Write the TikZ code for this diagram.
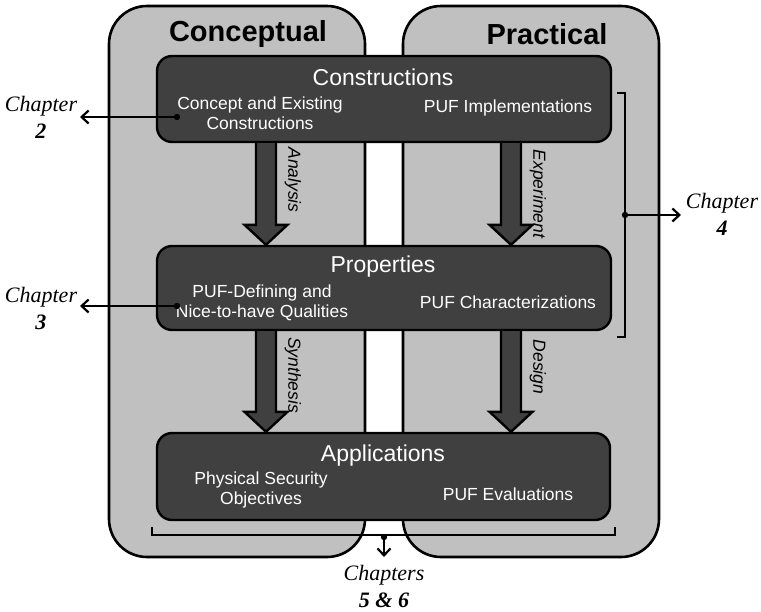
\documentclass[tikz,border=0pt]{standalone}
\usepackage{fontspec}
\setmainfont{Liberation Serif}
\setsansfont{Liberation Sans}
\usetikzlibrary{calc,arrows.meta}
\definecolor{panelgray}{HTML}{C0C0C0}
\definecolor{darkbox}{HTML}{404040}
\tikzset{
  panel/.style={draw=black,line width=2.6pt,fill=panelgray,rounded corners=38pt},
  darkrect/.style={draw=black,line width=2.4pt,fill=darkbox,rounded corners=15pt,rectangle,inner sep=0pt},
  titletext/.style={font=\sffamily\bfseries\fontsize{29}{32}\selectfont,text=black},
  headtext/.style={font=\sffamily\fontsize{23}{26}\selectfont,text=white},
  subtext/.style={font=\sffamily\fontsize{17.5}{20}\selectfont,text=white,align=center},
  flowlabel/.style={font=\sffamily\itshape\fontsize{17.5}{20}\selectfont,rotate=-90},
  chaptext/.style={font=\fontsize{22}{27}\selectfont,align=center},
  blockarr/.style={draw=black,line width=2.4pt,fill=darkbox,line join=miter},
  chaparrow/.style={line width=2.2pt,-{Straight Barb[length=7pt,width=13pt,line width=2.2pt]}},
  bracketline/.style={line width=2.2pt},
}
\newcommand\blockarrow[3]{%
  \draw[blockarr] ($(#2.south -| #1)+(-10,0)$) -- ($(#3.north -| #1)+(-10,-20)$)
    -- ($(#3.north -| #1)+(-21.5,-20)$) -- (#3.north -| #1)
    -- ($(#3.north -| #1)+(21.5,-20)$) -- ($(#3.north -| #1)+(10,-20)$)
    -- ($(#2.south -| #1)+(10,0)$);}
\begin{document}
\begin{tikzpicture}[x=1pt,y=-1pt]
\useasboundingbox (0,0) rectangle (761,611);
% panels
\draw[panel] (109,6) rectangle (365,557);
\draw[panel] (403,6) rectangle (659,557);
\node[titletext] (tconc) at (248,34) {Conceptual};
\node[titletext] (tprac) at (547,34) {Practical};
% dark boxes
\node[darkrect,minimum width=454pt,minimum height=86pt] (cons) at (384,99) {};
\node[darkrect,minimum width=454pt,minimum height=84pt] (prop) at (384,288) {};
\node[darkrect,minimum width=453pt,minimum height=87pt] (appl) at (383.5,476.5) {};
% texts in boxes
\node[headtext] (hcons) at (383,77) {Constructions};
\node[subtext] (scons1) at (260,113) {Concept and Existing\\Constructions};
\node[subtext] (scons2) at (508,108) {PUF Implementations};
\node[headtext] (hprop) at (383,267) {Properties};
\node[subtext] (sprop1) at (262,303) {PUF-Defining and\\Nice-to-have Qualities};
\node[subtext] (sprop2) at (508,302) {PUF Characterizations};
\node[headtext] (happl) at (383,456) {Applications};
\node[subtext] (sappl1) at (261,490) {Physical Security\\Objectives};
\node[subtext] (sappl2) at (508,494) {PUF Evaluations};
% block arrows
\coordinate (xl) at (266,0);
\coordinate (xr) at (511,0);
\blockarrow{xl}{cons}{prop}
\blockarrow{xr}{cons}{prop}
\blockarrow{xl}{prop}{appl}
\blockarrow{xr}{prop}{appl}
\node[flowlabel] (lana) at (293,180) {Analysis};
\node[flowlabel] (lexp) at (538,194) {Experiment};
\node[flowlabel] (lsyn) at (293,375) {Synthesis};
\node[flowlabel] (ldes) at (538,367) {Design};
% chapter 2
\coordinate (d2) at (177,117);
\node[chaptext] (c2) at (41,117) {\itshape Chapter\\\bfseries\itshape 2};
\coordinate (e2) at (80,117);
\fill (d2) circle (3.2pt);
\draw[chaparrow] (d2) -- (e2);
% chapter 3
\coordinate (d3) at (177,306);
\node[chaptext] (c3) at (41,308) {\itshape Chapter\\\bfseries\itshape 3};
\coordinate (e3) at (80,306);
\fill (d3) circle (3.2pt);
\draw[chaparrow] (d3) -- (e3);
% chapter 4 bracket
\draw[bracketline] (617,93) -- (625,93) -- (625,337) -- (617,337);
\coordinate (d4) at (625,215);
\coordinate (e4) at (681,215);
\fill (d4) circle (3.2pt);
\draw[chaparrow] (d4) -- (e4);
\node[chaptext] (c4) at (722,214) {\itshape Chapter\\\bfseries\itshape 4};
% chapters 5 & 6 bracket
\draw[bracketline] (152,527) -- (152,535) -- (615,535) -- (615,527);
\coordinate (d5) at (384,537);
\coordinate (e5) at (384,557);
\fill (d5) circle (3.2pt);
\draw[chaparrow] (d5) -- (e5);
\node[chaptext] (c5) at (384,586) {\itshape Chapters\\\bfseries\itshape 5 \& 6};
\end{tikzpicture}
\end{document}
